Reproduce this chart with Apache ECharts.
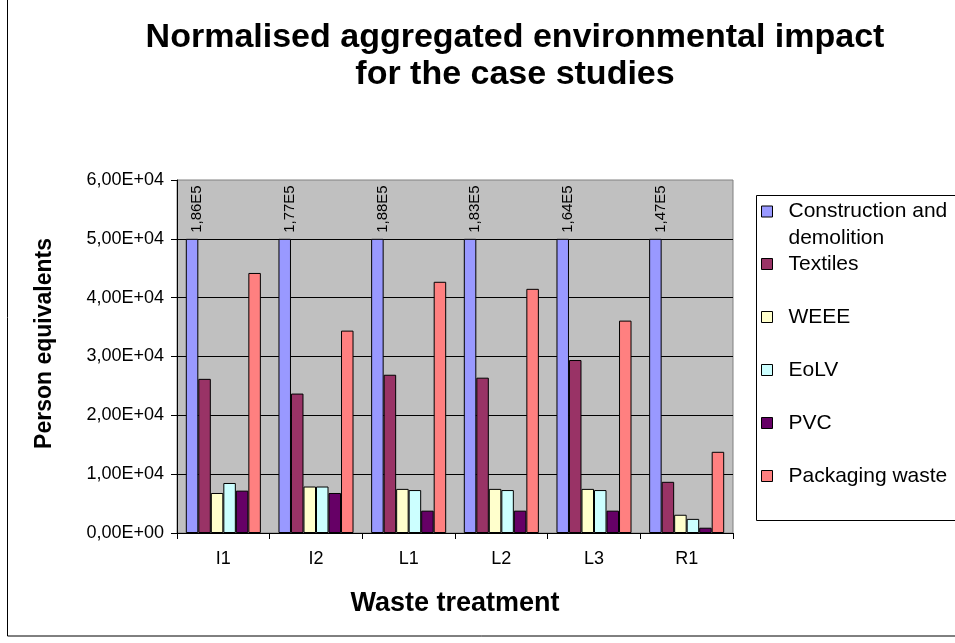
<!DOCTYPE html>
<html>
<head>
<meta charset="utf-8">
<script src="https://cdn.jsdelivr.net/npm/echarts@6/dist/echarts.min.js"></script>
<style>
html,body{margin:0;padding:0;background:#fff;}
#chart{width:955px;height:643px;}
</style>
</head>
<body>
<div id="chart"></div>
<script>
// ---- data ----
const categories = ['I1', 'I2', 'L1', 'L2', 'L3', 'R1'];
const seriesNames = ['Construction and demolition', 'Textiles', 'WEEE', 'EoLV', 'PVC', 'Packaging waste'];
const constructionValues = [186000, 177000, 188000, 183000, 164000, 147000];
const textilesValues = [26200, 23700, 26900, 26400, 29400, 8700];
const weeeValues = [6800, 7900, 7500, 7500, 7500, 3100];
const eolvValues = [8500, 7900, 7300, 7300, 7300, 2400];
const pvcValues = [7200, 6800, 3800, 3800, 3800, 900];
const packagingValues = [44200, 34400, 42700, 41500, 36100, 13800];
const yTicks = [0, 10000, 20000, 30000, 40000, 50000, 60000];
// bars taller than this are drawn cut off, with their true value written above
const breakValue = 50000;

const colors = ['#9999FF', '#993366', '#FFFFCC', '#CCFFFF', '#660066', '#FF8080'];
const font = "'Liberation Sans', Arial, sans-serif";

function sci(v) {
  if (v === 0) return '0,00E+00';
  const e = Math.floor(Math.log10(v));
  const m = (v / Math.pow(10, e)).toFixed(2).replace('.', ',');
  return m + 'E+' + (e < 10 ? '0' + e : e);
}

const allValues = [constructionValues, textilesValues, weeeValues, eolvValues, pvcValues, packagingValues];

const series = allValues.map((vals, i) => {
  const s = {
    name: seriesNames[i],
    type: 'bar',
    barGap: '0%',
    barCategoryGap: '19%',
    itemStyle: { color: colors[i], borderColor: '#000', borderWidth: 1 },
    emphasis: { disabled: true },
    data: vals.map(v => ({ value: Math.min(v, breakValue), real: v }))
  };
  if (i === 0) {
    s.label = {
      show: true,
      position: 'top',
      rotate: 90,
      align: 'left',
      verticalAlign: 'middle',
      distance: 6,
      offset: [0, 5],
      fontSize: 15,
      fontFamily: font,
      color: '#000',
      formatter: p => (p.data.real / 1e5).toFixed(2).replace('.', ',') + 'E5'
    };
  }
  return s;
});

// legend items positioned individually (first one wraps onto two lines)
const legendCenters = [211.5, 264, 317, 370, 423, 476];
const lh = 27;
const legends = seriesNames.map((n, i) => {
  const first = i === 0;
  return {
    data: [n],
    left: 761,
    top: first ? legendCenters[i] - (3 * lh) / 2 : legendCenters[i] - lh / 2,
    padding: 0,
    itemWidth: 11,
    itemHeight: 11,
    icon: 'rect',
    itemStyle: { borderColor: '#000', borderWidth: 1 },
    selectedMode: false,
    z: 5,
    formatter: first ? ' \nConstruction and\ndemolition' : '{name}',
    textStyle: {
      fontFamily: font,
      fontSize: 21,
      color: '#000',
      lineHeight: lh,
      padding: [0, 0, 0, 11]
    }
  };
});

const chart = echarts.init(document.getElementById('chart'), null, { renderer: 'canvas' });
chart.setOption({
  backgroundColor: '#fff',
  animation: false,
  color: colors,
  title: {
    text: 'Normalised aggregated environmental impact\nfor the case studies',
    left: 510,
    textAlign: 'center',
    top: 14,
    textStyle: { fontFamily: font, fontSize: 34, fontWeight: 'bold', color: '#000', lineHeight: 37 }
  },
  graphic: [
    { type: 'rect', z: 0, silent: true, shape: { x: 7.5, y: -5, width: 1000, height: 641 }, style: { fill: 'none', stroke: '#000', lineWidth: 1 } },
    { type: 'rect', z: 1, silent: true, shape: { x: 756.5, y: 195.5, width: 300, height: 325 }, style: { fill: '#fff', stroke: '#000', lineWidth: 1 } }
  ],
  legend: legends,
  grid: {
    left: 177, right: 222, top: 180, bottom: 110,
    show: true, backgroundColor: '#C0C0C0', borderColor: '#808080', borderWidth: 1
  },
  xAxis: {
    type: 'category',
    data: categories,
    name: 'Waste treatment',
    nameLocation: 'middle',
    nameGap: 57,
    nameTextStyle: { fontFamily: font, fontSize: 27, fontWeight: 'bold', color: '#000' },
    axisLine: { lineStyle: { color: '#000', width: 1 } },
    axisTick: { show: true, length: 6, inside: false, alignWithLabel: false, lineStyle: { color: '#000' } },
    axisLabel: { fontFamily: font, fontSize: 18, color: '#000', margin: 17 },
    splitLine: { show: false }
  },
  yAxis: {
    type: 'value',
    min: yTicks[0],
    max: yTicks[yTicks.length - 1],
    interval: yTicks[1] - yTicks[0],
    name: 'Person equivalents',
    nameLocation: 'middle',
    nameGap: 121,
    nameTextStyle: { fontFamily: font, fontSize: 23, fontWeight: 'bold', color: '#000', padding: [0, 0, 0, 26] },
    axisLine: { show: true, lineStyle: { color: '#000', width: 1 } },
    axisTick: { show: true, length: 6, inside: false, lineStyle: { color: '#000' } },
    axisLabel: { fontFamily: font, fontSize: 18, color: '#000', margin: 13, formatter: v => sci(v) },
    splitLine: { show: true, showMaxLine: false, showMinLine: false, lineStyle: { color: '#000', width: 1 } }
  },
  series: series
});
</script>
</body>
</html>
